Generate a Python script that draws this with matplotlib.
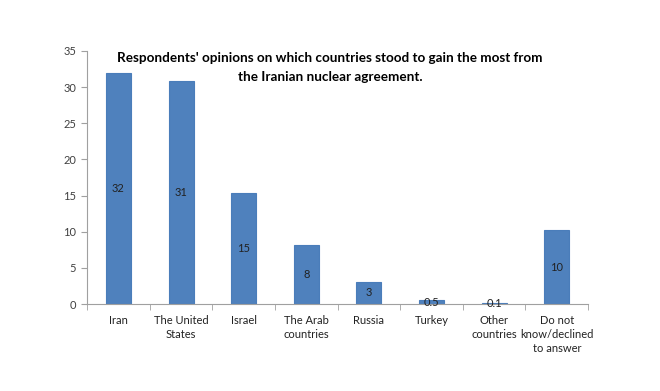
import matplotlib
matplotlib.use("Agg")
import matplotlib.pyplot as plt

categories = ["Iran", "The United\nStates", "Israel", "The Arab\ncountries", "Russia",
              "Turkey", "Other\ncountries", "Do not\nknow/declined\nto answer"]
values = [31.9, 30.8, 15.4, 8.1, 3.1, 0.5, 0.1, 10.2]
labels = ["32", "31", "15", "8", "3", "0.5", "0.1", "10"]
yticks = [0, 5, 10, 15, 20, 25, 30, 35]

plt.rcParams['font.family'] = ['Lato', 'DejaVu Sans']

fig = plt.figure(figsize=(6.6, 3.91), dpi=100)
ax = fig.add_axes([0.132, 0.2225, 0.759, 0.6471])

x = list(range(len(categories)))
ax.bar(x, values, width=0.4, color="#4F81BD", edgecolor="#4A7DBA", linewidth=0.8)
for xi, v, lab in zip(x, values, labels):
    ax.text(xi, v / 2, lab, ha="center", va="center", fontsize=8, color="#222222")

ax.set_xlim(-0.5, len(categories) - 0.5)
ax.set_ylim(0, 35)
ax.set_yticks(yticks)
ax.set_yticklabels([str(t) for t in yticks], fontsize=8, color="#404040")
ax.set_xticks(x)
ax.set_xticklabels(categories, fontsize=8, color="#222222", linespacing=1.3)
ax.tick_params(axis="x", length=0, pad=8)
ax.tick_params(axis="y", length=4, color="#A0A0A0", pad=4)
ax.set_xticks([i - 0.5 for i in range(len(categories) + 1)], minor=True)
ax.tick_params(axis="x", which="minor", length=4, color="#A0A0A0")

for s in ["top", "right"]:
    ax.spines[s].set_visible(False)
for s in ["left", "bottom"]:
    ax.spines[s].set_color("#A0A0A0")
    ax.spines[s].set_linewidth(0.8)

fig.text(0.5, 0.828, "Respondents' opinions on which countries stood to gain the most from\nthe Iranian nuclear agreement.",
         ha="center", va="center", fontsize=9.7, fontweight="bold", linespacing=1.75)

fig.savefig("out.png", dpi=100)
